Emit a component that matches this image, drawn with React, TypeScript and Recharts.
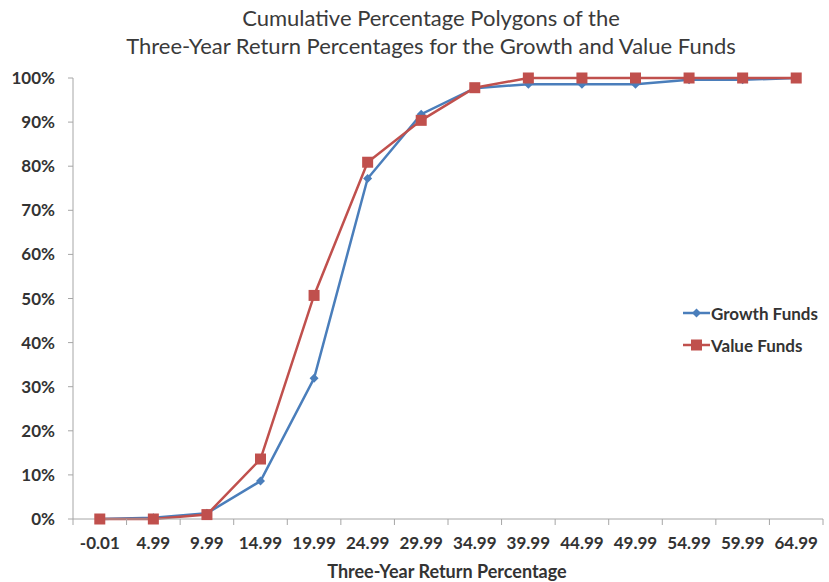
import React from 'react'
import { LineChart, Line, XAxis, YAxis } from 'recharts'

const categories = ['-0.01', '4.99', '9.99', '14.99', '19.99', '24.99', '29.99', '34.99', '39.99', '44.99', '49.99', '54.99', '59.99', '64.99']
const growthFunds = [0, 0.3, 1.3, 8.6, 31.9, 77.2, 91.8, 97.7, 98.6, 98.6, 98.6, 99.6, 99.6, 100]
const valueFunds = [0, 0, 1.0, 13.6, 50.7, 80.9, 90.4, 97.8, 100, 100, 100, 100, 100, 100]
const yTicks = [0, 10, 20, 30, 40, 50, 60, 70, 80, 90, 100]
const seriesNames = ['Growth Funds', 'Value Funds']

const BLUE = '#4a7ebb'
const RED = '#c0504d'
const AXIS = '#a6a6a6'
const FONT = 'Lato, "Open Sans", sans-serif'

const data = categories.map((c, i) => ({ bin: c, growth: growthFunds[i], value: valueFunds[i] }))

const Diamond = ({ cx, cy, color }: any) => (
  <polygon points={`${cx},${cy - 4.5} ${cx + 4.5},${cy} ${cx},${cy + 4.5} ${cx - 4.5},${cy}`} fill={color} />
)

const Square = ({ cx, cy, color }: any) => (
  <rect x={cx - 5.5} y={cy - 5.5} width={11} height={11} fill={color} />
)

// category ticks sit between the points, like the spreadsheet axis
const step = 750 / categories.length
const XTick = ({ x, y, payload, index }: any) => (
  <g>
    <line x1={x - step / 2} x2={x - step / 2} y1={y - 8} y2={y - 2} stroke={AXIS} />
    {index === categories.length - 1 && (
      <line x1={x + step / 2} x2={x + step / 2} y1={y - 8} y2={y - 2} stroke={AXIS} />
    )}
    <text x={x} y={y + 22} textAnchor="middle" fontSize={17} fontWeight="bold" fill="#333" fontFamily={FONT}>
      {payload.value}
    </text>
  </g>
)

const LegendBox = () => (
  <div
    style={{
      position: 'absolute',
      left: 683,
      top: 297,
      fontFamily: FONT,
      fontWeight: 'bold',
      fontSize: 17,
      color: '#333',
      whiteSpace: 'nowrap',
    }}
  >
    {seriesNames.map((name, i) => (
      <div key={name} style={{ display: 'flex', alignItems: 'center', height: 32 }}>
        <svg width={27} height={14} style={{ marginRight: 1 }}>
          <line x1={0} x2={27} y1={7} y2={7} stroke={i === 0 ? BLUE : RED} strokeWidth={2.5} />
          {i === 0 ? <Diamond cx={13.5} cy={7} color={BLUE} /> : <Square cx={13.5} cy={7} color={RED} />}
        </svg>
        <span>{name}</span>
      </div>
    ))}
  </div>
)

export default function App() {
  return (
    <div style={{ position: 'absolute', left: 0, top: 0, width: 829, height: 582, background: '#fff', overflow: 'hidden' }}>
      <div
        style={{
          position: 'absolute',
          left: 0,
          top: 4,
          width: 862,
          textAlign: 'center',
          fontFamily: FONT,
          fontSize: 22,
          lineHeight: '28px',
          color: '#3a3a3a',
        }}
      >
        <div>Cumulative Percentage Polygons of the</div>
        <div>Three-Year Return Percentages for the Growth and Value Funds</div>
      </div>
      <LineChart width={829} height={582} data={data} margin={{ top: 78, right: 6, bottom: 33, left: 13 }}>
        <XAxis
          dataKey="bin"
          padding={{ left: step / 2, right: step / 2 }}
          stroke={AXIS}
          tickLine={false}
          tick={<XTick />}
          interval={0}
          height={30}
        />
        <YAxis
          domain={[0, 100]}
          ticks={yTicks}
          tickFormatter={(v) => `${v}%`}
          stroke={AXIS}
          tickSize={5}
          tickMargin={13}
          width={60}
          tick={{ fontSize: 17, fontWeight: 'bold', fill: '#333', fontFamily: FONT }}
        />
        <Line
          dataKey="growth"
          name={seriesNames[0]}
          stroke={BLUE}
          strokeWidth={2.5}
          dot={(p: any) => <Diamond key={p.index} cx={p.cx} cy={p.cy} color={BLUE} />}
          isAnimationActive={false}
        />
        <Line
          dataKey="value"
          name={seriesNames[1]}
          stroke={RED}
          strokeWidth={2.5}
          dot={(p: any) => <Square key={p.index} cx={p.cx} cy={p.cy} color={RED} />}
          isAnimationActive={false}
        />
      </LineChart>
      <LegendBox />
      <div
        style={{
          position: 'absolute',
          left: 0,
          top: 560,
          width: 894,
          textAlign: 'center',
          fontFamily: FONT,
          fontWeight: 'bold',
          fontSize: 18,
          color: '#333',
        }}
      >
        Three-Year Return Percentage
      </div>
    </div>
  )
}
